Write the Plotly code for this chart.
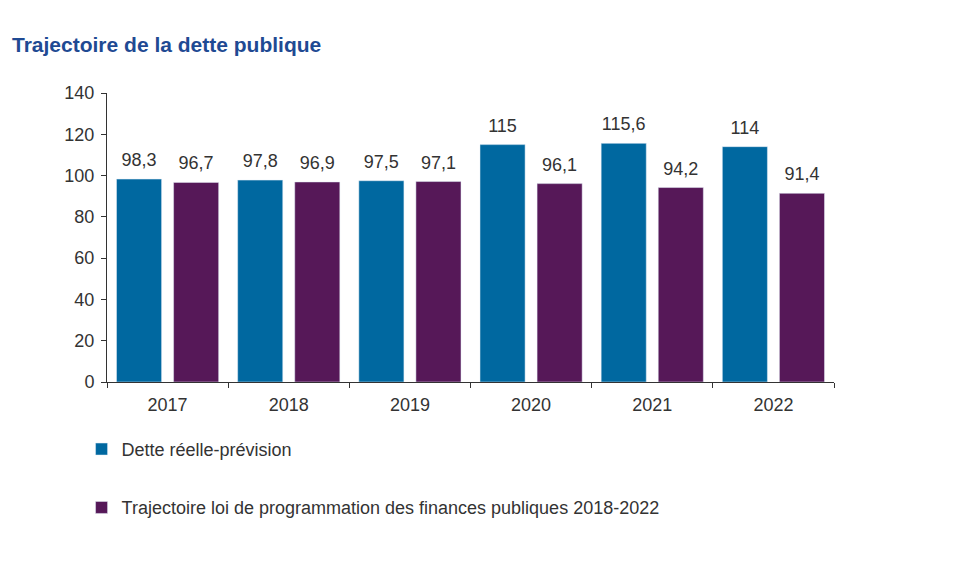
import plotly.graph_objects as go

years = ["2017", "2018", "2019", "2020", "2021", "2022"]
dette_reelle = [98.3, 97.8, 97.5, 115, 115.6, 114]
trajectoire_lpfp = [96.7, 96.9, 97.1, 96.1, 94.2, 91.4]

name_reelle = "Dette réelle-prévision"
name_lpfp = "Trajectoire loi de programmation des finances publiques 2018-2022"

colors = ["#0068A0", "#561858"]


def fr(v):
    return f"{v:g}".replace(".", ",")


fig = go.Figure()
for i, (name, vals) in enumerate([(name_reelle, dette_reelle), (name_lpfp, trajectoire_lpfp)]):
    fig.add_trace(go.Bar(x=years, y=vals, name=name, marker_color=colors[i],
                         legendgroup=str(i), offsetgroup=str(i)))
    # value labels: invisible markers give the text some room above the bar
    fig.add_trace(go.Scatter(x=years, y=vals, mode="markers+text", text=[fr(v) for v in vals],
                             textposition="top center", offsetgroup=str(i),
                             marker=dict(size=12, opacity=0), showlegend=False,
                             hoverinfo="skip", cliponaxis=False,
                             textfont=dict(size=18, color="#333")))

# body margin of the page is 8px, so the figure is shifted by it
fig.update_layout(
    width=961, height=553,
    margin=dict(l=99, r=135, t=85, b=179),
    paper_bgcolor="white", plot_bgcolor="white",
    font=dict(family="Liberation Sans, Arial, sans-serif", size=18, color="#333"),
    title=dict(text="<b>Trajectoire de la dette publique</b>", xref="container", x=4/961,
               y=1-37/553, yanchor="middle", xanchor="left",
               font=dict(size=21, color="#1F4A93")),
    barmode="group", bargap=0.058, bargroupgap=0.21,
    scattermode="group", scattergap=0.058,
    legend=dict(orientation="v", x=-0.035, xanchor="left", y=-0.169, yanchor="top",
                tracegroupgap=32, font=dict(size=18, color="#333")),
    showlegend=True,
)
fig.update_yaxes(range=[0, 140], dtick=20, showline=True, linecolor="#333", linewidth=1,
                 ticks="outside", ticklen=5, tickcolor="#333", showgrid=False, zeroline=False,
                 ticklabelstandoff=3)
fig.update_xaxes(showline=True, linecolor="#333", linewidth=1, ticks="outside",
                 tickson="boundaries", ticklen=5, tickcolor="#333", showgrid=False,
                 ticklabelstandoff=6)

fig.add_shape(type="line", xref="paper", yref="paper", x0=-99/727, x1=862/727,
              y0=375/289, y1=375/289, line=dict(color="#CCCCCC", width=2))

fig.write_html("out.html")
